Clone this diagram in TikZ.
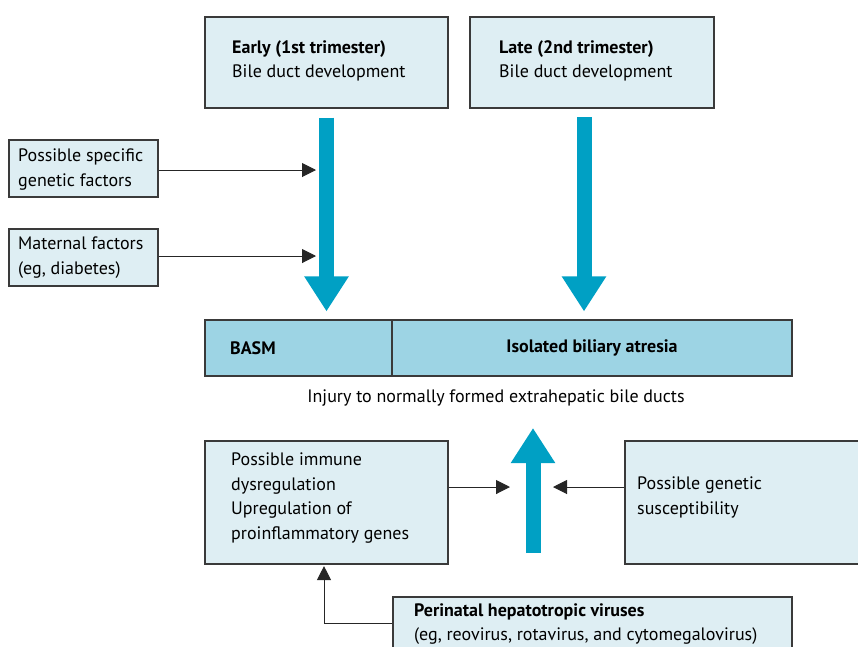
\documentclass[tikz,border=0pt]{standalone}
\usepackage{fontspec}
\setmainfont{PT Sans}
\usetikzlibrary{arrows.meta,calc}
\definecolor{boxfill}{RGB}{222,238,243}
\definecolor{barfill}{RGB}{157,212,228}
\definecolor{boxline}{RGB}{58,58,58}
\definecolor{arrowblue}{RGB}{0,160,196}
\tikzset{
  box/.style={draw=boxline, fill=boxfill, line width=1.1pt, inner sep=0pt},
  barbox/.style={box, fill=barfill, minimum height=56pt},
  boxtext/.style={anchor=north west, align=left, inner sep=0pt, font=\fontsize{18}{24.5}\selectfont},
  bigarrow/.style={draw=arrowblue, line width=15pt, -{Triangle[width=42pt,length=35pt]}},
  thinarrow/.style={draw=black!85, line width=1pt, -{Triangle[width=14pt,length=14pt]}}
}
\begin{document}
\begin{tikzpicture}[x=1pt,y=-1pt]
			%%%%% frame %%%%%
			\useasboundingbox (0,0) rectangle (858,646);
			\clip (0,0) rectangle (858,646);
			
			%%%%% top row %%%%%
			\node[box, minimum width=243pt, minimum height=91pt] (early) at (326.5,62.5) {};
			\node[boxtext] at (232,40) {\textbf{Early (1st trimester)}\\Bile duct development};
			
			\node[box, minimum width=244pt, minimum height=91pt] (late) at (592,62.5) {};
			\node[boxtext] at (499,40) {\textbf{Late (2nd trimester)}\\Bile duct development};
			
			%%%%% left factors %%%%%
			\node[box, minimum width=149pt, minimum height=57pt] (gen) at (83.5,168.5) {};
			\node[boxtext] at (18,149) {Possible specific\\genetic factors};
			
			\node[box, minimum width=149pt, minimum height=57pt] (mat) at (83.5,257.5) {};
			\node[boxtext] at (18,237) {Maternal factors\\(eg, diabetes)};
			
			%%%%% bar %%%%%
			\node[barbox, minimum width=187pt] (basm) at (298.5,348) {};
			\node[anchor=west, inner sep=0pt, font=\fontsize{18}{24}\selectfont\bfseries] at (230,348) {BASM};
			\node[barbox, minimum width=400pt, font=\fontsize{18}{24}\selectfont\bfseries] (isol) at (592,348) {Isolated biliary atresia};
			
			\node[inner sep=0pt, font=\fontsize{18}{24}\selectfont] (injury) at (496,398) {Injury to normally formed extrahepatic bile ducts};
			
			%%%%% lower row %%%%%
			\node[box, minimum width=243pt, minimum height=123pt] (immune) at (326.5,502.5) {};
			\node[boxtext] at (231,453) {Possible immune\\dysregulation\\Upregulation of\\proinflammatory genes};
			
			\node[box, minimum width=245pt, minimum height=123pt] (suscept) at (747.5,502.5) {};
			\node[boxtext] at (637,477) {Possible genetic\\susceptibility};
			
			\node[box, minimum width=399pt, minimum height=73pt] (viruses) at (592.5,633.5) {};
			\node[boxtext] at (414,603) {\textbf{Perinatal hepatotropic viruses}\\(eg, reovirus, rotavirus, and cytomegalovirus)};
			
			%%%%% big arrows %%%%%
			\draw[bigarrow, shorten <=9pt, shorten >=8pt] (early.south) -- (early.south |- basm.north);
			\coordinate (latefoot) at (584,108);
			\draw[bigarrow, shorten <=9pt, shorten >=8pt] (latefoot) -- (latefoot |- isol.north);
			\coordinate (upfoot) at (533,553);
			\coordinate (uptip) at (533,428);
			\draw[bigarrow] (upfoot) -- (uptip);
			
			%%%%% thin arrows %%%%%
			\coordinate (gentip) at (316,170);
			\coordinate (mattip) at (316,256);
			\draw[thinarrow] (gen.east |- gentip) -- (gentip);
			\draw[thinarrow] (mat.east |- mattip) -- (mattip);
			
			\coordinate (imtip) at (510,487);
			\coordinate (sustip) at (553,487);
			\draw[thinarrow] (immune.east |- imtip) -- (imtip);
			\draw[thinarrow] (suscept.west |- sustip) -- (sustip);
			
			\coordinate (bend) at (324,623);
			\draw[thinarrow, shorten >=1.5pt] (viruses.west |- bend) -- (bend) -- (bend |- immune.south);
			
			%%%%% END %%%%%
\end{tikzpicture}
\end{document}
